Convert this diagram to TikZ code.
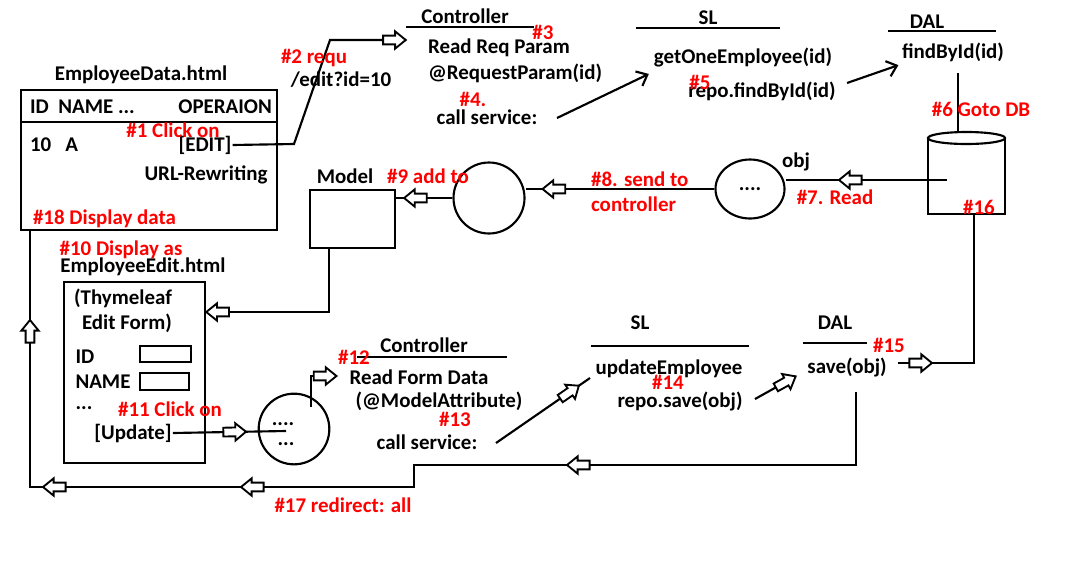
\documentclass[tikz,border=0pt]{standalone}
\usepackage{fontspec}
\setmainfont{Carlito}
\usetikzlibrary{arrows.meta,shapes.geometric,decorations.markings}

\tikzset{
  txt/.style={inner sep=0pt,font=\fontsize{15.7}{18}\selectfont\bfseries},
  num/.style={txt,text=red},
  box/.style={draw,inner sep=0pt},
  blk/.style={postaction={decorate,decoration={markings,mark=at position #1 with {\draw[fill=white,line width=1.4pt] (-17pt,-3.3pt) -- (-8pt,-3.3pt) -- (-8pt,-6.5pt) -- (0pt,0pt) -- (-8pt,6.5pt) -- (-8pt,3.3pt) -- (-17pt,3.3pt) -- cycle;}}}},
  blk/.default=0.999,
  barb/.style={-{Straight Barb[length=7pt,width=12pt,line width=1.6pt]}}
}

\begin{document}
\begin{tikzpicture}[x=0.75pt,y=-0.75pt,line width=1.6pt]
\fill[white] (0,0) rectangle (1066,568);
\useasboundingbox (0,0) rectangle (1066,568);

% page with the table
\node[txt] (edata) at (141,75) {EmployeeData.html};
\node[box,minimum width=192pt,minimum height=105pt,anchor=north west] (tbl) at (20,89) {};
\draw (20,122) -- (276,122);
\node[txt,anchor=west] (hid) at (29,107) {ID~ NAME ...};
\node[txt,anchor=east] (hop) at (273,107) {OPERAION};
\node[txt,anchor=west] (row) at (29,145) {10~~~A};
\node[txt] (edit) at (205,145) {[EDIT]};
\node[txt] (urlr) at (206,175) {URL-Rewriting};

% controller / service / dal (read)
\node[txt] (ctrl1) at (465,16) {Controller};
\draw (406,27) -- (534,27);
\node[txt,anchor=west] (rrp) at (427,48) {Read Req Param};
\node[txt,anchor=west] (rpa) at (427,73) {@RequestParam(id)};
\node[txt] (call1) at (487,117) {call service:};
\node[txt] (edq) at (341,80) {/edit?id=10};

\node[txt] (sl1) at (708,18) {SL};
\draw (636,28) -- (780,28);
\node[txt] (getone) at (743,58) {getOneEmployee(id)};
\node[txt] (repo1) at (762,91) {repo.findById(id)};

\node[txt] (dal1) at (927,22) {DAL};
\draw (888,31) -- (996,31);
\node[txt] (findby) at (953,52) {findById(id)};

% database
\draw (928,138) -- (928,214) -- (1005,214) -- (1005,138);
\draw (966.5,138) ellipse [x radius=38.5, y radius=6];
\coordinate (dbtop) at (958,132);
\coordinate (dbin) at (947,180);
\coordinate (dbbot) at (974,214);

\node[txt,ellipse,draw,minimum width=51.75pt,minimum height=44.25pt,inner sep=0pt] (obj) at (750,189) {....};
\node[txt] (objl) at (796,162) {obj};
\node[circle,draw,minimum size=53.25pt,inner sep=0pt] (circ1) at (489,198) {};
\node[txt] (mlab) at (345,176) {Model};
\node[box,minimum width=63.75pt,minimum height=43.5pt,anchor=north west] (model) at (309,189) {};

% edit form
\node[txt] (eedit) at (143,267) {EmployeeEdit.html};
\node[box,minimum width=105.75pt,minimum height=135.75pt,anchor=north west] (form) at (63,281) {};
\node[txt] (thy) at (123,298) {(Thymeleaf};
\node[txt] (efm) at (127,323) {Edit Form)};
\node[txt] (fid) at (85,357) {ID};
\node[box,minimum width=38.25pt,minimum height=12pt,anchor=north west] (idbox) at (139,345) {};
\node[txt] (fname) at (103,382) {NAME};
\node[box,minimum width=36.75pt,minimum height=12.75pt,anchor=north west] (namebox) at (139,372) {};
\node[txt] (fdots) at (84,408) {...};
\node[txt] (upd) at (133,433) {[Update]};

\node[circle,draw,minimum size=53pt,inner sep=0pt] (circ2) at (294,429) {};
\node[txt] (d4) at (283,424) {....};
\node[txt] (d3) at (286,444) {...};

% controller / service / dal (update)
\node[txt] (ctrl2) at (424,345) {Controller};
\draw (357,357) -- (507,357);
\node[txt] (rfd) at (419,377) {Read Form Data};
\node[txt] (rma) at (439,401) {(@ModelAttribute)};
\node[txt] (call2) at (427,442) {call service:};

\node[txt] (sl2) at (640,323) {SL};
\draw (591,346) -- (749,346);
\node[txt] (upe) at (669,369) {updateEmployee};
\node[txt] (rsave) at (680,401) {repo.save(obj)};

\node[txt] (dal2) at (835,323) {DAL};
\draw (803,343) -- (867,343);
\node[txt] (save) at (847,367) {save(obj)};

% connectors
\coordinate (c3) at (406,40);
\draw[blk] (edit.east) -- (294,144) -- (330,40) -- (c3);
\coordinate (s1) at (557,118);
\draw[barb] (s1) -- ([shift={(-3pt,-4pt)}]getone.south west);
\coordinate (s2) at (847,83);
\draw[barb] (s2) -- ([shift={(-2pt,-2pt)}]findby.south west);
\draw ([yshift=-8pt]findby.south -| dbtop) -- (dbtop);
\draw[blk=81pt] (dbin) -- (dbin -| obj.east);
\draw[blk=-12.75pt] (obj.west) -- (obj.west -| circ1.east);
\draw[blk=-6pt] (circ1.west) -- (circ1.west -| model.east);
\coordinate (mk) at (329,312);
\draw[blk] (model.south -| mk) -- (mk) -- (mk -| form.east);
\coordinate (c2in) at (286,431);
\draw[blk=-30pt] (upd.east) -- (c2in);
\coordinate (c2up) at (311,407);
\coordinate (c2k) at (311,376);
\draw[blk] (c2up) -- (c2k) -- ([xshift=-9pt]rfd.west |- c2k);
\coordinate (s3) at (496,443);
\coordinate (s4) at (590,378);
\draw[blk=-10pt] (s3) -- (s4);
\coordinate (s5) at (755,399);
\draw[blk] (s5) -- ([shift={(-8pt,-7pt)}]save.west);
\coordinate (s7) at (898,363);
\draw[blk=25.5pt] (s7) -- (974,363) -- (dbbot);
\coordinate (s8) at (856,392);
\coordinate (t18) at (30,229);
\draw[blk=271.5pt,blk=532.5pt,blk=681pt,blk=816pt] (s8) -- (856,465) -- (414,465) -- (414,487) -- (30,487) -- (t18);

% step numbers
\node[num] (n1) at (173,130) {\#1 Click on};
\node[num] (n2) at (314,58) {\#2 requ};
\node[num] (n3) at (543,32) {\#3};
\node[num] (n4) at (473,99) {\#4.};
\node[num] (n5) at (700,82) {\#5};
\node[num] (n6) at (981,109) {\#6 Goto DB};
\node[num] (n7) at (835,197) {\#7. Read};
\node[num,anchor=west] (n8a) at (590,179) {\#8. send to};
\node[num,anchor=west] (n8b) at (590,204) {controller};
\node[num] (n9) at (428,176) {\#9 add to};
\node[num] (n10) at (121,250) {\#10 Display as};
\node[num] (n11) at (170,409) {\#11 Click on};
\node[num] (n12) at (354,357) {\#12};
\node[num] (n13) at (455,419) {\#13};
\node[num] (n14) at (668,382) {\#14};
\node[num] (n15) at (889,345) {\#15};
\node[num] (n16) at (979,207) {\#16};
\node[num] (n17) at (343,505) {\#17 redirect: all};
\node[num,anchor=west] (n18) at (32,219) {\#18 Display data};
\end{tikzpicture}
\end{document}
